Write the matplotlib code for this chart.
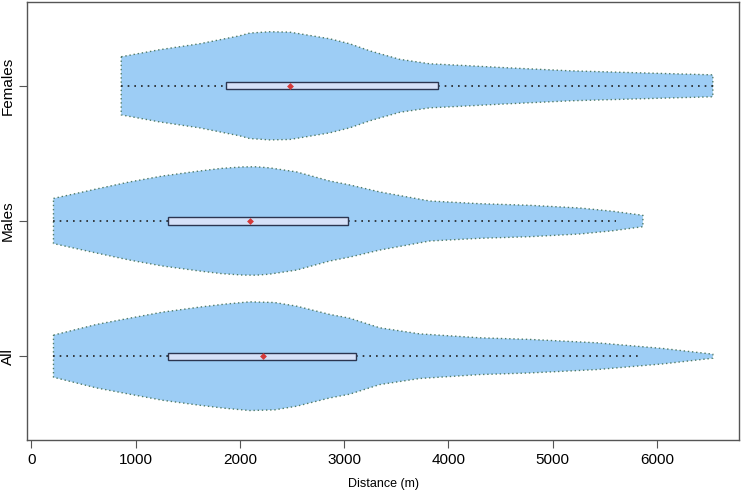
import numpy as np
from matplotlib import pyplot as plt
from matplotlib.patches import Rectangle

plt.rcParams['font.family'] = ['Liberation Sans', 'DejaVu Sans']

GROUPS = ['All', 'Males', 'Females']

# violin outlines: distance (m) and half width (y units)
ALL_X = [211, 624, 941, 1258, 1613, 1853, 2093, 2333, 2544, 2861, 3053, 3341, 3725, 4301, 4781, 5424, 6057, 6537]
ALL_W = [.156, .235, .281, .326, .363, .385, .402, .397, .370, .309, .281, .210, .165, .136, .124, .099, .057, .015]

MALES_X = [211, 624, 941, 1258, 1613, 1820, 2026, 2156, 2285, 2544, 2861, 3053, 3341, 3821, 4301, 4781, 5261, 5578, 5866]
MALES_W = [.167, .237, .289, .333, .370, .389, .400, .401, .393, .363, .296, .267, .215, .148, .128, .116, .096, .072, .042]

FEMALES_X = [861, 1229, 1613, 1997, 2093, 2285, 2477, 2573, 2861, 3053, 3245, 3533, 3821, 4205, 4493, 5165, 5837, 6537]
FEMALES_W = [.215, .267, .311, .370, .390, .400, .397, .385, .348, .311, .259, .196, .163, .148, .136, .111, .096, .081]

# box stats: lower whisker, q1, median, q3, upper whisker
ALL_BOX = [211, 1308, 2220, 3116, 5835]
MALES_BOX = [211, 1308, 2095, 3036, 5611]
FEMALES_BOX = [861, 1869, 2479, 3899, 6537]

PROFILES = [(ALL_X, ALL_W), (MALES_X, MALES_W), (FEMALES_X, FEMALES_W)]
BOXES = [ALL_BOX, MALES_BOX, FEMALES_BOX]


def main():
    fig = plt.figure(figsize=(7.41, 4.97), dpi=100)
    ax = fig.add_axes([27 / 741, 1 - 440 / 497, 712 / 741, 438 / 497])

    for i, ((xs, ws), box) in enumerate(zip(PROFILES, BOXES), start=1):
        xs = np.array(xs, dtype=float)
        ws = np.array(ws)
        px = np.concatenate([xs, xs[::-1], xs[:1]])
        py = np.concatenate([i + ws, i - ws[::-1], [i + ws[0]]])
        ax.fill(px, py, color='#9dcdf5', lw=0, zorder=1)
        ax.plot(px, py, color='#4f7b68', lw=1, ls=(0, (1, 2)), zorder=2)

        lo, q1, med, q3, hi = box
        ax.plot([lo, q1], [i, i], color='#222222', lw=1.2, ls=(0, (1, 3)), zorder=3)
        ax.plot([q3, hi], [i, i], color='#222222', lw=1.2, ls=(0, (1, 3)), zorder=3)
        h = 0.026
        ax.add_patch(Rectangle((q1, i - h), q3 - q1, 2 * h, facecolor='#d6e1f8',
                               edgecolor='#2b3550', lw=1, zorder=4))
        ax.plot(med, i, marker='D', color='#d43a3a', ms=3.5, mew=0, zorder=5)

    ax.set_xlim(-43, 6788)
    ax.set_ylim(0.38, 3.62)
    ax.set_xticks(range(0, 7000, 1000))
    ax.set_yticks([1, 2, 3])
    ax.set_yticklabels(GROUPS, rotation=90, va='center')
    ax.tick_params(axis='both', direction='out', length=6, width=0.8, color='#555555',
                   labelsize=11, pad=3)
    for s in ax.spines.values():
        s.set_color('#555555')
        s.set_linewidth(1)
    ax.set_xlabel('Distance (m)', fontsize=9, labelpad=8)

    plt.savefig('out.png', dpi=100)
    plt.close()


if __name__ == '__main__':
    main()
